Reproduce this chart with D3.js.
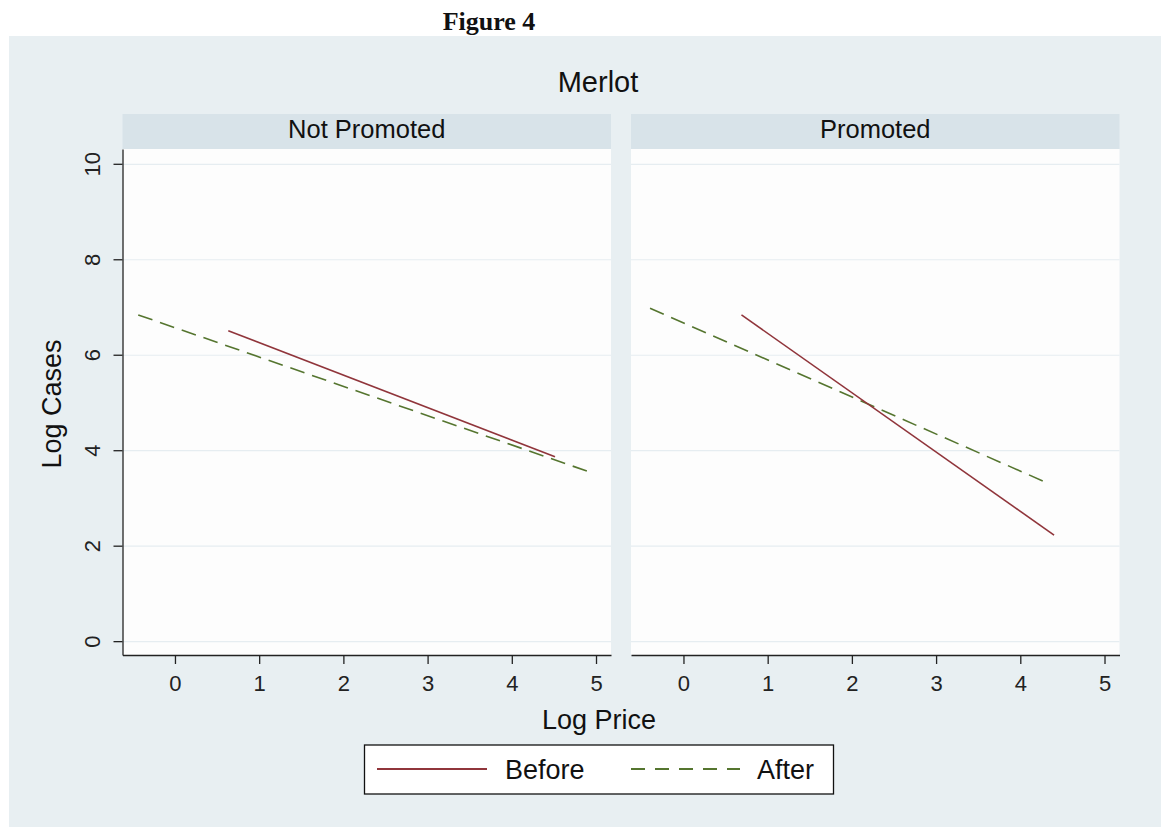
<!DOCTYPE html>
<html>
<head>
<meta charset="utf-8">
<script src="https://cdn.jsdelivr.net/npm/d3@7"></script>
<style>
  body { margin: 0; background: #fff; }
  svg { display: block; }
  text { font-family: "Liberation Sans", Arial, sans-serif; fill: #111; }
</style>
</head>
<body>
<svg id="chart" width="1162" height="827"></svg>
<script>
// values (fitted lines, two end points each)
var panels = ["Not Promoted", "Promoted"];
var xTicks = [0, 1, 2, 3, 4, 5];
var yTicks = [0, 2, 4, 6, 8, 10];
var seriesNames = ["Before", "After"];

var beforeNotPromoted = [[0.633, 6.505], [4.513, 3.864]];
var afterNotPromoted = [[-0.436, 6.834], [4.949, 3.528]];
var beforePromoted = [[0.689, 6.834], [4.401, 2.222]];
var afterPromoted = [[-0.397, 6.975], [4.315, 3.319]];

var panelData = [
    {before: beforeNotPromoted, after: afterNotPromoted},
    {before: beforePromoted, after: afterPromoted}
];

var red = "#90353b", green = "#55752f";

var svg = d3.select("#chart");

//graph region
svg.append("rect").attr("x", 9).attr("y", 36).attr("width", 1152).attr("height", 791)
    .attr("fill", "#e8eff2");

svg.append("text").attr("x", 489).attr("y", 30)
    .attr("text-anchor", "middle")
    .style("font-family", "'Liberation Serif', 'Times New Roman', serif")
    .style("font-weight", "bold").style("font-size", "26px")
    .text("Figure 4");

svg.append("text").attr("x", 598).attr("y", 92)
    .attr("text-anchor", "middle").style("font-size", "29px")
    .text("Merlot");

var plotTop = 149, plotBottom = 655, pw = 488.5;
var panelX = [122.5, 631];

var x = d3.scaleLinear().domain([-0.623, 5.178]).range([0, pw]);
var y = d3.scaleLinear().domain([-0.29, 10.31]).range([plotBottom, plotTop]);
var fmt = d3.format("d");

var line = d3.line().x(function(d) { return x(d[0]) }).y(function(d) { return y(d[1]) });

panels.forEach(function(name, i) {
    var g = svg.append("g").attr("transform", "translate(" + panelX[i] + ",0)");

    //strip
    g.append("rect").attr("x", 0).attr("y", 114).attr("width", pw).attr("height", 35)
        .attr("fill", "#d8e3e9");
    g.append("text").attr("x", pw / 2).attr("y", 138)
        .attr("text-anchor", "middle").style("font-size", "25.5px")
        .text(name);

    //plot region
    g.append("rect").attr("x", 0).attr("y", plotTop).attr("width", pw).attr("height", plotBottom - plotTop)
        .attr("fill", "#fdfdfd");

    //grid
    var grid = g.append("g").call(d3.axisLeft(y).tickValues(yTicks).tickSize(-pw).tickFormat(""));
    grid.select(".domain").remove();
    grid.selectAll("line").attr("stroke", "#e6edf1").attr("stroke-width", 1.2);

    //x axis
    var xa = g.append("g").attr("transform", "translate(0," + plotBottom + ")")
        .call(d3.axisBottom(x).tickValues(xTicks).tickFormat(fmt).tickSize(9).tickSizeOuter(0));
    xa.selectAll("path, line").attr("stroke", "#222").attr("stroke-width", 1.3);
    xa.selectAll("text").attr("y", 35.7).attr("dy", 0)
        .style("font-size", "22px").style("fill", "#222");

    //y axis only on the first panel
    if (i === 0) {
        var ya = g.append("g").call(d3.axisLeft(y).tickValues(yTicks).tickFormat(fmt).tickSize(9).tickSizeOuter(0));
        ya.selectAll("path, line").attr("stroke", "#222").attr("stroke-width", 1.3);
        ya.selectAll("text").attr("x", null).attr("dy", 0)
            .attr("text-anchor", "middle")
            .attr("transform", "translate(-22.5,0) rotate(-90)")
            .style("font-size", "22px").style("fill", "#222");
    }

    var d = panelData[i];
    g.append("path").attr("d", line(d.after)).attr("fill", "none")
        .attr("stroke", green).attr("stroke-width", 1.6).attr("stroke-dasharray", "15,8");
    g.append("path").attr("d", line(d.before)).attr("fill", "none")
        .attr("stroke", red).attr("stroke-width", 1.6);
});

//axis titles
svg.append("text").attr("x", 599).attr("y", 729)
    .attr("text-anchor", "middle").style("font-size", "27px")
    .text("Log Price");
svg.append("text").attr("transform", "translate(61,404) rotate(-90)")
    .attr("text-anchor", "middle").style("font-size", "27px")
    .text("Log Cases");

//legend
var lg = svg.append("g");
lg.append("rect").attr("x", 364.5).attr("y", 745).attr("width", 469).attr("height", 49)
    .attr("fill", "#fff").attr("stroke", "#111").attr("stroke-width", 1.3);
var legendItems = [
    {name: seriesNames[0], color: red, dash: null, x0: 377, x1: 487, tx: 505},
    {name: seriesNames[1], color: green, dash: "14,10", x0: 631, x1: 740, tx: 757}
];
legendItems.forEach(function(it) {
    lg.append("line").attr("x1", it.x0).attr("x2", it.x1).attr("y1", 769).attr("y2", 769)
        .attr("stroke", it.color).attr("stroke-width", 2)
        .attr("stroke-dasharray", it.dash);
    lg.append("text").attr("x", it.tx).attr("y", 779).style("font-size", "27px").text(it.name);
});
</script>
</body>
</html>
